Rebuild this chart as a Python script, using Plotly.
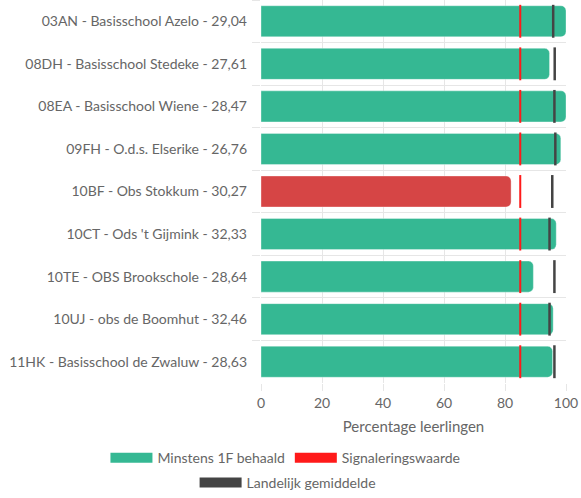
import plotly.graph_objects as go

schools = [
    "03AN - Basisschool Azelo - 29,04",
    "08DH - Basisschool Stedeke - 27,61",
    "08EA - Basisschool Wiene - 28,47",
    "09FH - O.d.s. Elserike - 26,76",
    "10BF - Obs Stokkum - 30,27",
    "10CT - Ods 't Gijmink - 32,33",
    "10TE - OBS Brookschole - 28,64",
    "10UJ - obs de Boomhut - 32,46",
    "11HK - Basisschool de Zwaluw - 28,63",
]
minstens_1f = [100, 94.6, 100, 98.3, 82.0, 96.8, 89.3, 95.8, 95.6]
signalering = [85, 85, 85, 85, 85, 85, 85, 85, 85]
landelijk = [95.8, 96.3, 96.2, 96.5, 95.5, 94.6, 96.2, 94.6, 96.2]

GREEN = "#35b893"
RED_BAR = "#d64545"
RED_LINE = "#ff1a1a"
DARK = "#444444"
FONT = "Lato"
GREY_TXT = "#666666"

bar_colors = [RED_BAR if v < s else GREEN for v, s in zip(minstens_1f, signalering)]

fig = go.Figure()
fig.add_trace(go.Bar(
    x=minstens_1f, y=schools, orientation="h", width=0.73,
    marker=dict(color=bar_colors, line=dict(width=1, color="rgba(255,255,255,0.35)")),
    showlegend=False, hoverinfo="x+y",
))
# line-ns symbol height = 1.4 * size
fig.add_trace(go.Scatter(
    x=signalering, y=schools, mode="markers",
    marker=dict(symbol="line-ns", size=23.5, line=dict(width=2, color=RED_LINE)),
    showlegend=False,
))
fig.add_trace(go.Scatter(
    x=landelijk, y=schools, mode="markers",
    marker=dict(symbol="line-ns", size=23.5, line=dict(width=2.5, color=DARK)),
    showlegend=False,
))
# legend entries
for name, color, leg in [("Minstens 1F behaald", GREEN, "legend"),
                         ("Signaleringswaarde", RED_LINE, "legend"),
                         ("Landelijk gemiddelde", DARK, "legend2")]:
    fig.add_trace(go.Scatter(
        x=[None], y=[None], mode="lines", name=name,
        line=dict(color=color, width=13), legend=leg,
    ))

fig.update_layout(
    width=581, height=498,
    margin=dict(l=261, r=15, t=0, b=115, autoexpand=False),
    plot_bgcolor="white", paper_bgcolor="white",
    font=dict(family=FONT, size=14, color=GREY_TXT),
    barcornerradius=5,
    legend=dict(orientation="h", x=-0.51, xanchor="left", y=-0.196, yanchor="middle",
                xref="paper", yref="paper", itemwidth=42,
                font=dict(size=14, color=GREY_TXT)),
    legend2=dict(orientation="h", x=0.495, xanchor="center", y=0.0301, yanchor="middle",
                 xref="container", yref="container", itemwidth=42,
                 font=dict(size=14, color=GREY_TXT)),
)
fig.update_xaxes(
    range=[0, 100], dtick=20, showgrid=True, gridcolor="#e6e6e6", gridwidth=1,
    zeroline=False, ticks="outside", ticklen=7, tickcolor="#e6e6e6",
    showline=False, automargin=False,
    title=dict(text="Percentage leerlingen", standoff=11, font=dict(size=15, color=GREY_TXT)),
    tickfont=dict(size=14, color=GREY_TXT),
)
fig.update_yaxes(
    range=[len(schools) - 0.5, -0.5], tickson="boundaries", showgrid=True,
    gridcolor="#e6e6e6", ticks="outside", ticklen=8, tickcolor="#e6e6e6",
    showline=False, automargin=False,
    tickfont=dict(size=14, color=GREY_TXT), ticklabelstandoff=13,
)
fig.write_html("out.html", config={"displayModeBar": False},
               post_script="document.body.style.margin='0px';")
